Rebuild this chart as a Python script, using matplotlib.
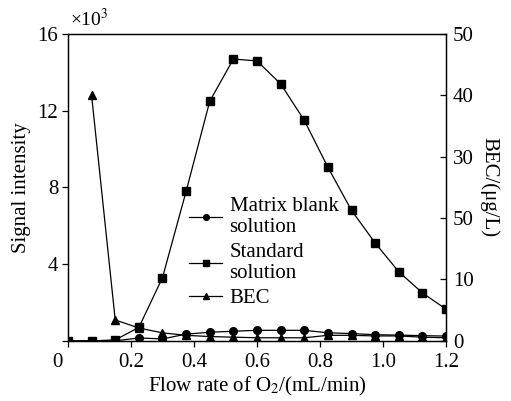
import matplotlib
matplotlib.use("Agg")
import matplotlib.pyplot as plt
import matplotlib.transforms as mtransforms

plt.rcParams['font.family'] = ['Liberation Serif', 'DejaVu Serif']
plt.rcParams['mathtext.fontset'] = 'stix'

flow = [0, 0.075, 0.15, 0.225, 0.30, 0.375, 0.45, 0.525, 0.60, 0.675, 0.75, 0.825, 0.90, 0.975, 1.05, 1.125, 1.20]
matrix_blank = [0.0, 0.0, 0.0, 0.15, 0.1, 0.35, 0.45, 0.5, 0.55, 0.55, 0.55, 0.42, 0.38, 0.32, 0.3, 0.27, 0.25]
standard = [0.0, 0.0, 0.05, 0.7, 3.3, 7.8, 12.5, 14.7, 14.6, 13.4, 11.5, 9.05, 6.8, 5.1, 3.6, 2.5, 1.65]
bec_flow = flow[1:]
bec = [40.0, 3.4, 2.1, 1.3, 0.9, 0.7, 0.6, 0.5, 0.5, 0.5, 0.9, 0.9, 0.8, 0.8, 0.6, 0.5]

xticks = [0, 0.2, 0.4, 0.6, 0.8, 1.0, 1.2]
xtick_labels = ['0', '0.2', '0.4', '0.6', '0.8', '1.0', '1.2']
yticks_left = [0, 4, 8, 12, 16]
ytick_left_labels = ['', '4', '8', '12', '16']
yticks_right = [0, 10, 20, 30, 40, 50]
ytick_right_labels = ['0', '10', '50', '30', '40', '50']

fig = plt.figure(figsize=(5.11, 4.01), dpi=100)
ax = fig.add_axes([0.133, 0.150, 0.740, 0.765])
ax2 = ax.twinx()

fs = 15
l1, = ax.plot(flow, matrix_blank, '-o', color='black', lw=0.9, ms=5.5, label='Matrix blank\nsolution')
l2, = ax.plot(flow, standard, '-s', color='black', lw=0.9, ms=5.5, label='Standard\nsolution')
l3, = ax2.plot(bec_flow, bec, '-^', color='black', lw=0.9, ms=5.5, label='BEC')

ax.set_xlim(0, 1.2)
ax.set_ylim(0, 16)
ax2.set_ylim(0, 50)

ax.set_xticks(xticks)
ax.set_xticklabels(xtick_labels, fontsize=fs)
ax.set_yticks(yticks_left)
ax.set_yticklabels(ytick_left_labels, fontsize=fs)
ax2.set_yticks(yticks_right)
ax2.set_yticklabels(ytick_right_labels, fontsize=fs)

ax.tick_params(axis='x', direction='out', length=4, width=0.9, pad=5, top=False)
ax.tick_params(axis='y', direction='out', length=4, width=0.9, pad=3)
ax2.tick_params(axis='y', direction='in', length=4, width=0.9, pad=5)

# shift '0' x tick label left
lab0 = ax.get_xticklabels()[0]
lab0.set_transform(lab0.get_transform() + mtransforms.ScaledTranslation(-11/100, 0, fig.dpi_scale_trans))

for sp in list(ax.spines.values()) + list(ax2.spines.values()):
    sp.set_linewidth(0.9)

ax.set_xlabel('Flow rate of O$_2$/(mL/min)', fontsize=fs, labelpad=2)
ax.set_ylabel('Signal intensity', fontsize=fs, labelpad=5)
ax2.set_ylabel('BEC/(μg/L)', fontsize=fs, rotation=270, labelpad=18)

ax.text(0.005, 1.012, '×10$^3$', transform=ax.transAxes, fontsize=14, ha='left', va='bottom')

leg = ax.legend(handles=[l1, l2, l3], loc='upper left', bbox_to_anchor=(0.32, 0.47),
                frameon=False, fontsize=fs, handlelength=1.6, handletextpad=0.35,
                labelspacing=0.25, borderaxespad=0, borderpad=0, markerscale=0.75)

fig.savefig('out.png', dpi=100)
